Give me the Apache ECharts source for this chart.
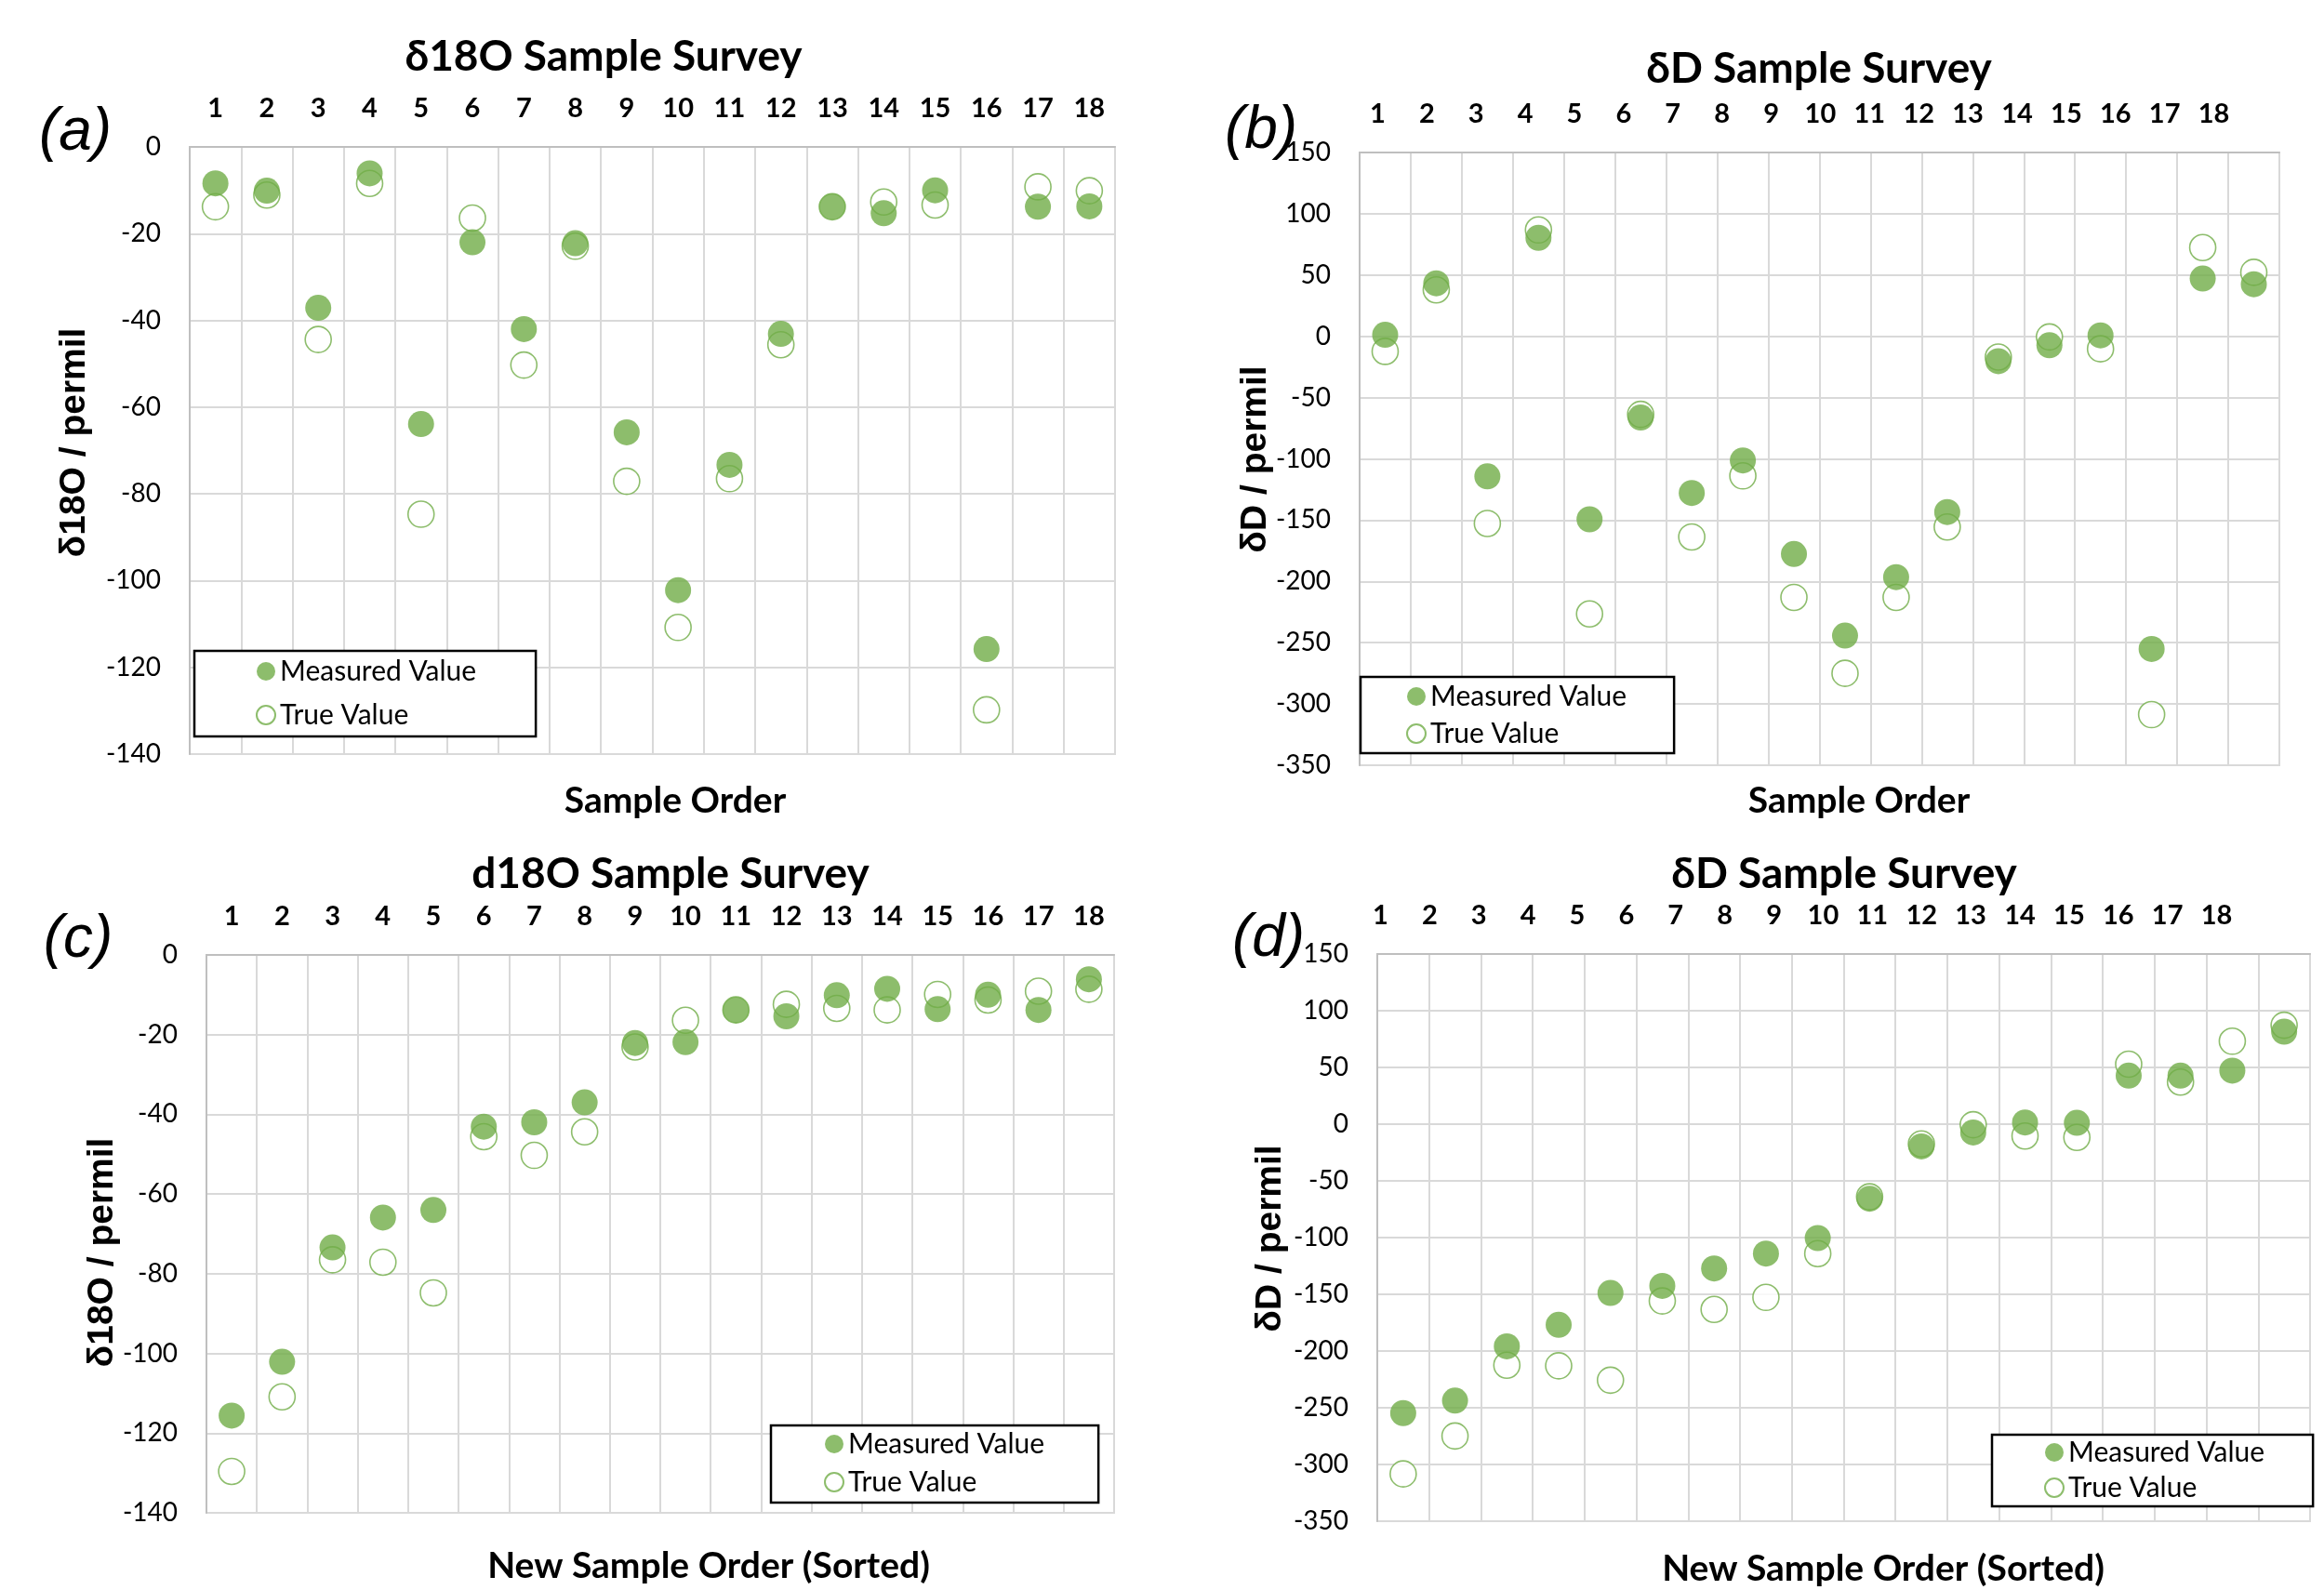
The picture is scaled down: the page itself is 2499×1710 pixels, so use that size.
<!DOCTYPE html>
<html>
<head>
<meta charset="utf-8">
<title>Sample Survey</title>
<script src="https://cdn.jsdelivr.net/npm/echarts@6.0.0/dist/echarts.min.js"></script>
<style>
  html, body { margin: 0; padding: 0; background: #fff; }
  #chart { width: 2499px; height: 1710px; }
</style>
</head>
<body>
<div id="chart"></div>
<script>
// sample numbers on the top axis
const sampleOrder = ['1','2','3','4','5','6','7','8','9','10','11','12','13','14','15','16','17','18'];

// (a) d18O in original order
const d18oMeasured = [-8.4, -10.1, -37.1, -6.1, -63.9, -22.0, -42.0, -22.2, -65.8, -102.2, -73.3, -43.1, -13.8, -15.3, -10.0, -115.8, -13.8, -13.7];
const d18oTrue     = [-13.8, -11.1, -44.4, -8.4, -84.7, -16.4, -50.3, -22.9, -77.1, -110.8, -76.5, -45.6, -13.8, -12.7, -13.4, -129.8, -9.2, -10.1];

// (b) dD in original order
const dDMeasured = [1.2, 43.3, -114.3, 80.4, -149.3, -66.3, -127.8, -101.3, -177.6, -244.2, -196.5, -143.4, -20.3, -7.3, 0.8, -255.1, 47.1, 42.5];
const dDTrue     = [-12.3, 37.9, -152.7, 86.8, -226.5, -63.7, -163.7, -113.9, -213.0, -275.0, -213.0, -155.6, -16.9, -0.5, -10.2, -308.7, 72.4, 52.2];

// (c) d18O sorted
const d18oSortedMeasured = [-115.6, -102.1, -73.4, -65.9, -64.0, -43.1, -42.0, -37.0, -22.1, -21.9, -13.8, -15.4, -10.1, -8.5, -13.6, -10.0, -13.8, -6.1];
const d18oSortedTrue     = [-129.6, -110.9, -76.5, -77.1, -84.8, -45.6, -50.3, -44.4, -23.1, -16.4, -13.8, -12.4, -13.4, -13.8, -9.9, -11.3, -9.1, -8.6];

// (d) dD sorted
const dDSortedMeasured = [-254.7, -243.7, -195.8, -176.9, -148.8, -142.6, -127.2, -114.1, -100.4, -65.7, -19.6, -7.3, 1.5, 1.2, 42.8, 42.8, 47.2, 81.5];
const dDSortedTrue     = [-308.3, -274.9, -212.5, -213.0, -225.7, -155.8, -163.3, -152.7, -114.1, -64.0, -17.4, -0.5, -10.4, -11.7, 52.9, 37.1, 73.1, 87.2];

// y ranges [min, max, step]
const d18oRange = [-140, 0, 20];
const dDRange = [-350, 150, 50];

const seriesNames = ['Measured Value', 'True Value'];

const GREEN = '#70ad47';
const GRID_COLOR = '#d9d9d9';
const FONT = 'Lato, "Open Sans", sans-serif';
const ARIAL = '"Liberation Sans", Arial, sans-serif';

const chart = echarts.init(document.getElementById('chart'), null, { renderer: 'canvas' });

// plot boxes, in px
const panels = [
    { left: 204,  top: 158,  width: 995,  height: 653, range: d18oRange, measured: d18oMeasured, truth: d18oTrue },
    { left: 1462, top: 164,  width: 989,  height: 659, range: dDRange,   measured: dDMeasured,   truth: dDTrue },
    { left: 222,  top: 1027, width: 976,  height: 600, range: d18oRange, measured: d18oSortedMeasured, truth: d18oSortedTrue },
    { left: 1481, top: 1026, width: 1003, height: 610, range: dDRange,   measured: dDSortedMeasured,   truth: dDSortedTrue }
];

// panels b and d have their top numbers drawn a little narrower than the columns
const labelStrips = [
    { left: 1455, top: 164,  width: 952 },
    { left: 1458, top: 1026, width: 952 }
];

const legendBoxes = [
    { left: 209,  top: 700,  padding: [7, 64, 8, 66], itemGap: 17 },
    { left: 1463, top: 728,  padding: [6, 51, 6, 49], itemGap: 10 },
    { left: 829,  top: 1533, padding: [5, 58, 7, 57], itemGap: 11 },
    { left: 2142, top: 1543, padding: [4, 52, 5, 56], itemGap: 8 }
];

const grids = [];
const xAxes = [];
const yAxes = [];
const series = [];

panels.forEach((p, i) => {
    grids.push({
        left: p.left, top: p.top, width: p.width, height: p.height,
        show: true, borderColor: GRID_COLOR, borderWidth: 2,
        containLabel: false, outerBoundsMode: 'none'
    });
    const ownLabels = (i === 0 || i === 2);
    xAxes.push({
        type: 'category',
        gridIndex: i,
        position: 'top',
        data: sampleOrder,
        boundaryGap: true,
        axisLine: { show: true, onZero: false, lineStyle: { color: '#bfbfbf', width: 2 } },
        axisTick: { show: false },
        axisLabel: {
            show: ownLabels, interval: 0, margin: 27,
            fontFamily: FONT, fontWeight: 'bold', fontSize: 29, color: '#000'
        },
        splitLine: { show: true, interval: 0, lineStyle: { color: GRID_COLOR, width: 2 } }
    });
    yAxes.push({
        type: 'value',
        gridIndex: i,
        min: p.range[0], max: p.range[1], interval: p.range[2],
        axisLine: { show: true, onZero: false, lineStyle: { color: '#bfbfbf', width: 2 } },
        axisTick: { show: false },
        axisLabel: { margin: 31, fontFamily: FONT, fontSize: 28, color: '#000' },
        splitLine: { show: true, lineStyle: { color: GRID_COLOR, width: 2 } }
    });
    series.push({
        name: seriesNames[1], type: 'scatter',
        xAxisIndex: i, yAxisIndex: i,
        data: p.truth,
        symbol: 'circle', symbolSize: 28,
        itemStyle: { color: '#fff', borderColor: GREEN, borderWidth: 1.6 },
        emphasis: { disabled: true }
    });
    series.push({
        name: seriesNames[0], type: 'scatter',
        xAxisIndex: i, yAxisIndex: i,
        data: p.measured,
        symbol: 'circle', symbolSize: 28,
        itemStyle: { color: GREEN },
        emphasis: { disabled: true }
    });
});

// label-only strips for b and d
labelStrips.forEach((s) => {
    const gi = grids.length;
    grids.push({ left: s.left, top: s.top, width: s.width, height: 10, show: false, containLabel: false, outerBoundsMode: 'none' });
    xAxes.push({
        type: 'category', gridIndex: gi, position: 'top', data: sampleOrder,
        axisLine: { show: false }, axisTick: { show: false }, splitLine: { show: false },
        axisLabel: { interval: 0, margin: 27, fontFamily: FONT, fontWeight: 'bold', fontSize: 29, color: '#000' }
    });
    yAxes.push({ type: 'value', gridIndex: gi, show: false, min: 0, max: 1 });
});

const legends = legendBoxes.map((b) => ({
    data: seriesNames,
    orient: 'vertical',
    left: b.left, top: b.top,
    padding: b.padding,
    itemGap: b.itemGap,
    itemWidth: 20, itemHeight: 20,
    backgroundColor: '#fff',
    borderColor: '#000', borderWidth: 2.5,
    selectedMode: false,
    textStyle: { fontFamily: FONT, fontSize: 30, lineHeight: 30, color: '#000' }
}));

const textEl = (x, y, text, font, size, weight, rotate, italic) => ({
    type: 'text', x: x, y: y, rotation: rotate ? Math.PI / 2 : 0,
    style: {
        text: text, fill: '#000',
        font: (italic ? 'italic ' : '') + weight + ' ' + size + 'px ' + font,
        textAlign: 'center', textVerticalAlign: 'middle'
    }
});

const graphics = [
    // titles
    textEl(649, 61, 'δ18O Sample Survey', FONT, 46, 'bold'),
    textEl(1956, 74, 'δD Sample Survey', FONT, 46, 'bold'),
    textEl(721, 940, 'd18O Sample Survey', FONT, 46, 'bold'),
    textEl(1983, 940, 'δD Sample Survey', FONT, 46, 'bold'),
    // x names
    textEl(726, 861, 'Sample Order', FONT, 39, 'bold'),
    textEl(1999, 861, 'Sample Order', FONT, 39, 'bold'),
    textEl(762, 1684, 'New Sample Order (Sorted)', FONT, 39, 'bold'),
    textEl(2025, 1687, 'New Sample Order (Sorted)', FONT, 39, 'bold'),
    // y names
    textEl(80, 476, 'δ18O / permil', ARIAL, 39, 'bold', true),
    textEl(1350, 494, 'δD / permil', ARIAL, 39, 'bold', true),
    textEl(110, 1347, 'δ18O / permil', ARIAL, 39, 'bold', true),
    textEl(1366, 1332, 'δD / permil', ARIAL, 39, 'bold', true),
    // panel letters
    textEl(81, 143, '(a)', ARIAL, 64, 'normal', false, true),
    textEl(1356, 141, '(b)', ARIAL, 64, 'normal', false, true),
    textEl(84, 1011, '(c)', ARIAL, 64, 'normal', false, true),
    textEl(1364, 1010, '(d)', ARIAL, 64, 'normal', false, true)
];

chart.setOption({
    backgroundColor: '#fff',
    animation: false,
    grid: grids,
    xAxis: xAxes,
    yAxis: yAxes,
    legend: legends,
    series: series,
    graphic: graphics
});
</script>
</body>
</html>
